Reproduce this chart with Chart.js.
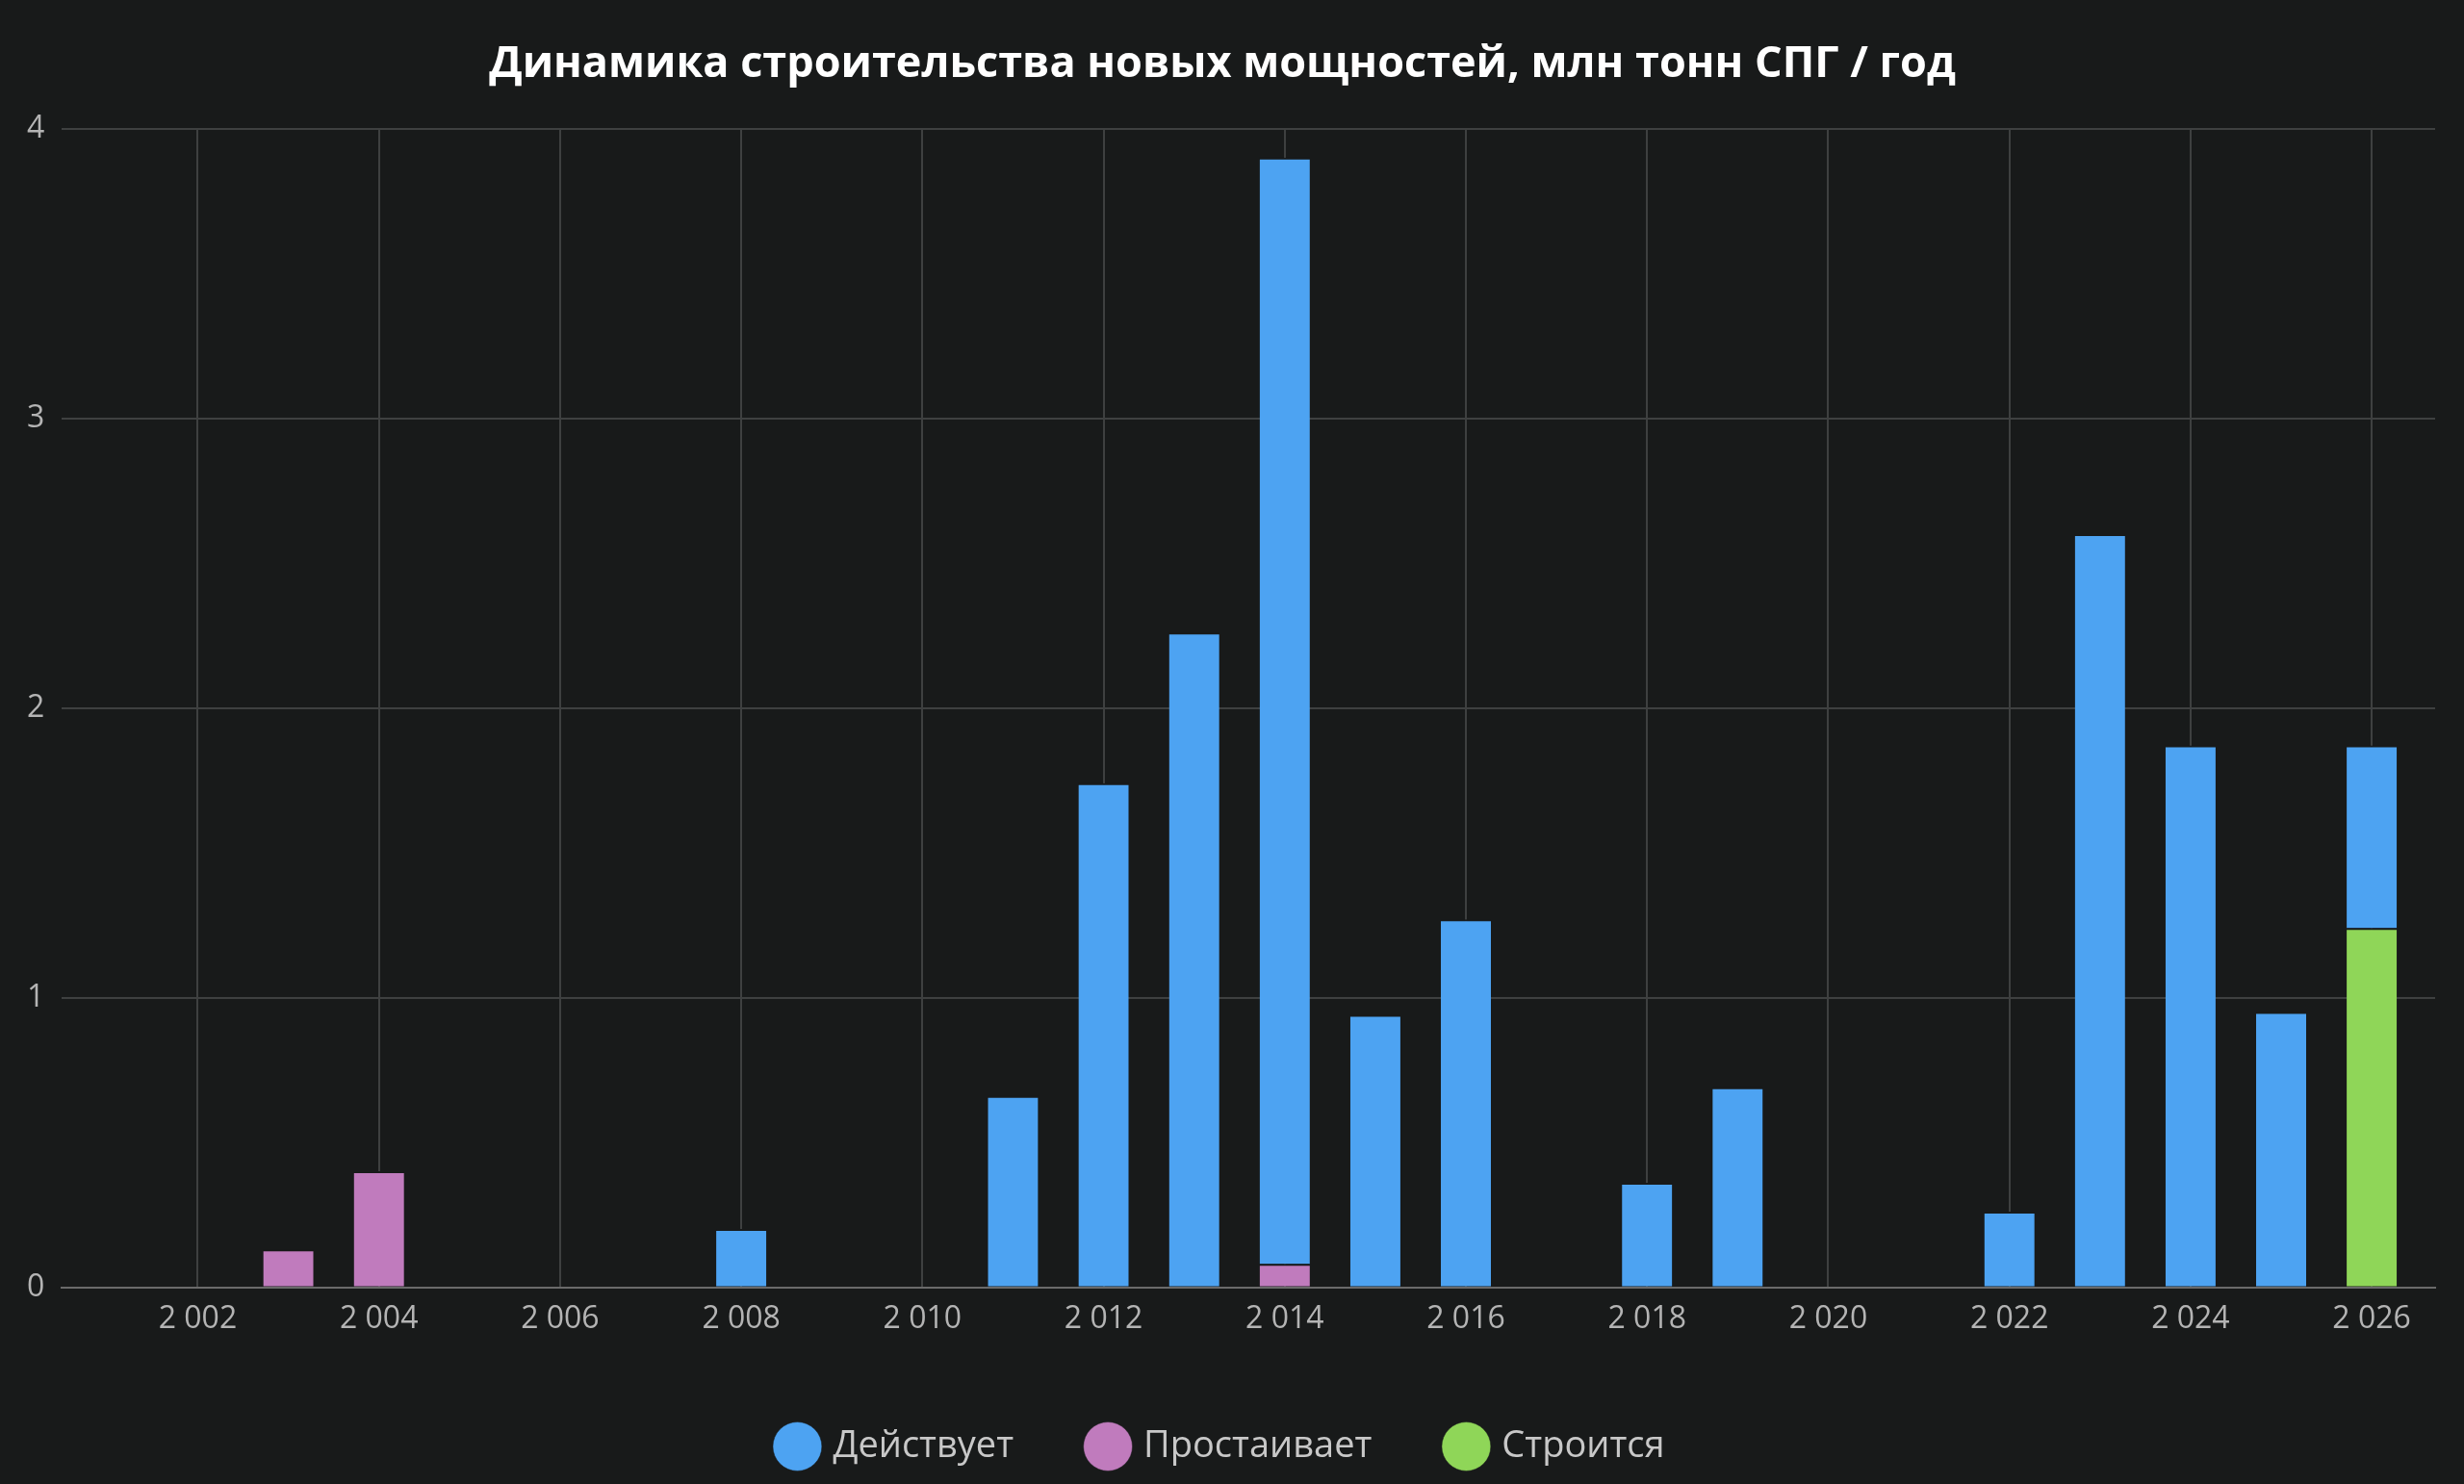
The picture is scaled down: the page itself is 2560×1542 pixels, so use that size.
<!DOCTYPE html>
<html>
<head>
<meta charset="utf-8">
<script src="https://cdn.jsdelivr.net/npm/chart.js@4"></script>
<style>
  html, body { margin: 0; background: #181a1a; }
  #wrap { width: 2560px; height: 1542px; }
</style>
</head>
<body>
<div id="wrap"><canvas id="c"></canvas></div>
<script>
// Данные по годам (млн тонн СПГ / год)
const activeYears = [2008, 2011, 2012, 2013, 2014, 2015, 2016, 2018, 2019, 2022, 2023, 2024, 2025, 2026];
const activeValues = [0.20, 0.66, 1.74, 2.26, 3.82, 0.94, 1.27, 0.36, 0.69, 0.26, 2.60, 1.87, 0.95, 0.63];
const idleYears = [2003, 2004, 2014];
const idleValues = [0.13, 0.40, 0.08];
const buildYears = [2026];
const buildValues = [1.24];

const toPoints = (xs, ys) => xs.map((x, i) => ({ x: x, y: ys[i] }));

const font = "'Open Sans', 'Noto Sans', sans-serif";

new Chart(document.getElementById("c"), {
    type: "bar",
    data: {
        datasets: [
            { label: "Действует", data: toPoints(activeYears, activeValues), backgroundColor: "#4da3f2", order: 1 },
            { label: "Простаивает", data: toPoints(idleYears, idleValues), backgroundColor: "#c07bbd", order: 0 },
            { label: "Строится", data: toPoints(buildYears, buildValues), backgroundColor: "#8fd658", order: 0 },
        ],
    },
    options: {
        responsive: true,
        maintainAspectRatio: false,
        animation: false,
        layout: { padding: { left: 10, right: 30, top: 10, bottom: 10 } },
        datasets: {
            bar: { barThickness: 52, borderColor: "#181a1a", borderWidth: { top: 2 }, borderSkipped: "bottom" },
        },
        plugins: {
            title: {
                display: true,
                text: "Динамика строительства новых мощностей, млн тонн СПГ / год",
                color: "#ffffff",
                font: { family: font, size: 45, weight: "bold" },
                padding: { top: 30, bottom: 40 },
            },
            legend: {
                position: "bottom",
                labels: {
                    color: "#c8c8c8",
                    usePointStyle: true,
                    pointStyle: "circle",
                    boxWidth: 36,
                    boxHeight: 36,
                    padding: 80,
                    font: { family: font, size: 38 },
                    sort: (a, b) => a.datasetIndex - b.datasetIndex,
                },
            },
            tooltip: { enabled: false },
        },
        scales: {
            x: {
                type: "linear",
                stacked: true,
                offset: false,
                min: 2000.5,
                max: 2026.7,
                afterBuildTicks: (axis) => {
                    axis.ticks = [];
                    for (let y = 2002; y <= 2026; y += 2) axis.ticks.push({ value: y });
                },
                ticks: {
                    color: "#b4b4b4",
                    font: { family: font, size: 32 },
                    padding: 14,
                    callback: (v) => String(v).replace(/^(\d)(\d{3})$/, "$1 $2"),
                },
                grid: { color: "#3e4040", lineWidth: 2, drawTicks: false, offset: false },
                border: { color: "#6a6a6a", width: 2 },
            },
            y: {
                stacked: true,
                min: 0,
                max: 4,
                ticks: { stepSize: 1, color: "#b4b4b4", font: { family: font, size: 32 }, padding: 18 },
                grid: { color: "#3e4040", lineWidth: 2, drawTicks: false },
                border: { display: false },
            },
        },
    },
});
</script>
</body>
</html>
